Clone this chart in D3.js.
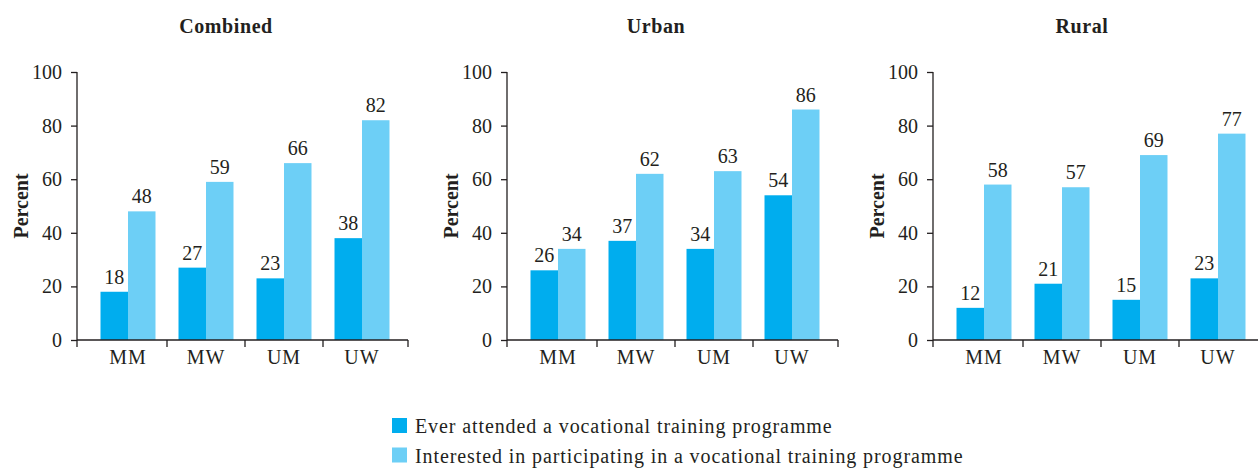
<!DOCTYPE html>
<html>
<head>
<meta charset="utf-8">
<script src="https://cdn.jsdelivr.net/npm/d3@7"></script>
<style>
  body { margin: 0; background: #fff; }
  svg text { font-family: "Liberation Serif", "DejaVu Serif", "Times New Roman", serif; fill: #231f20; }
</style>
</head>
<body>
<svg id="chart" width="1258" height="470"></svg>
<script>
const categories = ["MM", "MW", "UM", "UW"];
const panels = ["Combined", "Urban", "Rural"];
const seriesNames = [
  "Ever attended a vocational training programme",
  "Interested in participating in a vocational training programme"
];
// values per panel, categories order MM, MW, UM, UW
const attended = {
  Combined: [18, 27, 23, 38],
  Urban: [26, 37, 34, 54],
  Rural: [12, 21, 15, 23]
};
const interested = {
  Combined: [48, 59, 66, 82],
  Urban: [34, 62, 63, 86],
  Rural: [58, 57, 69, 77]
};
const yTicks = [0, 20, 40, 60, 80, 100];
const colors = ["#00adee", "#6dcff6"];

const svg = d3.select("#chart");
const axisX = [77, 507, 933];   // left edge (y axis) of each panel
const plotTop = 72, plotBottom = 340;
const axisLen = 331;

const y = d3.scaleLinear().domain([0, 100]).range([plotBottom, plotTop]);

panels.forEach(function (name, i) {
  const x0 = axisX[i];
  const g = svg.append("g").attr("transform", "translate(" + x0 + ",0)");

  const x = d3.scaleBand()
    .domain(categories)
    .range([12, 324])
    .paddingInner(0.295)
    .paddingOuter(0.1475);
  const xs = d3.scaleBand()
    .domain([0, 1])
    .range([0, x.bandwidth()]);

  // title
  g.append("text")
    .attr("x", 149)
    .attr("y", 33)
    .attr("text-anchor", "middle")
    .style("font-weight", "bold")
    .style("font-size", "20px")
    .style("letter-spacing", "0.6px")
    .text(name);

  // y label
  g.append("text")
    .attr("transform", "translate(-49," + ((plotTop + plotBottom) / 2) + ") rotate(-90)")
    .attr("text-anchor", "middle")
    .style("font-weight", "bold")
    .style("font-size", "20px")
    .text("Percent");

  // bars
  const rows = categories.map((c, j) => ({ cat: c, vals: [attended[name][j], interested[name][j]] }));
  const grp = g.selectAll("g.cat")
    .data(rows)
    .join("g")
    .attr("class", "cat")
    .attr("transform", d => "translate(" + x(d.cat) + ",0)");

  grp.selectAll("rect")
    .data(d => d.vals)
    .join("rect")
    .attr("x", (d, k) => xs(k))
    .attr("y", d => y(d))
    .attr("width", xs.bandwidth())
    .attr("height", d => plotBottom - y(d))
    .attr("fill", (d, k) => colors[k]);

  grp.selectAll("text.val")
    .data(d => d.vals)
    .join("text")
    .attr("class", "val")
    .attr("x", (d, k) => xs(k) + xs.bandwidth() / 2)
    .attr("y", d => y(d) - 8)
    .attr("text-anchor", "middle")
    .style("font-size", "20px")
    .text(d => d);

  // y axis
  const yAxis = g.append("g")
    .call(d3.axisLeft(y).tickValues(yTicks).tickSize(6).tickPadding(9));
  yAxis.attr("font-family", null);
  yAxis.select(".domain").attr("stroke", "#231f20").attr("stroke-width", 1.3).attr("d", "M0," + plotTop + "V" + plotBottom);
  yAxis.selectAll(".tick line").attr("stroke", "#231f20").attr("stroke-width", 1.3);
  yAxis.selectAll(".tick text")
    .style("font-size", "20px")
    .attr("fill", "#231f20");

  // x axis line with separator ticks
  const xg = g.append("g").attr("transform", "translate(0," + plotBottom + ")");
  xg.append("line")
    .attr("x1", 0).attr("x2", axisLen)
    .attr("stroke", "#231f20").attr("stroke-width", 1.3);
  const sepTicks = [0].concat(categories.slice(1).map(c => x(c) - x.step() * x.paddingInner() / 2), [axisLen]);
  xg.selectAll("line.sep")
    .data(sepTicks)
    .join("line")
    .attr("class", "sep")
    .attr("x1", d => d).attr("x2", d => d)
    .attr("y1", 0).attr("y2", 7)
    .attr("stroke", "#231f20").attr("stroke-width", 1.3);
  xg.selectAll("text.cat")
    .data(categories)
    .join("text")
    .attr("class", "cat")
    .attr("x", d => x(d) + x.bandwidth() / 2)
    .attr("y", 24)
    .attr("text-anchor", "middle")
    .style("font-size", "20px")
    .style("letter-spacing", "1px")
    .text(d => d);
});

// legend
const legend = svg.append("g").attr("transform", "translate(392,418)");
const li = legend.selectAll("g")
  .data(seriesNames)
  .join("g")
  .attr("transform", (d, k) => "translate(0," + k * 29.5 + ")");
li.append("rect")
  .attr("width", 15).attr("height", 15)
  .attr("fill", (d, k) => colors[k]);
li.append("text")
  .attr("x", 23)
  .attr("y", 15)
  .style("font-size", "20px")
  .style("letter-spacing", "0.9px")
  .text(d => d);
</script>
</body>
</html>
